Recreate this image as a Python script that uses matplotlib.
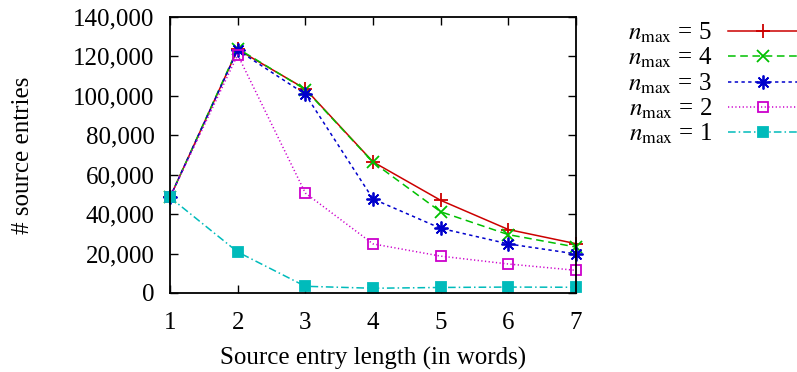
import numpy as np
import matplotlib
matplotlib.use('Agg')
import matplotlib.pyplot as plt
from matplotlib.ticker import StrMethodFormatter

plt.rcParams['font.family'] = ['Liberation Serif', 'DejaVu Serif']
plt.rcParams['mathtext.fontset'] = 'stix'

# длина записи (в словах)
lengths = [1, 2, 3, 4, 5, 6, 7]

# число записей для каждого n_max
n5 = [48500, 123500, 103500, 66500, 47000, 32200, 25000]
n4 = [48500, 124000, 103200, 66300, 41200, 29600, 23300]
n3 = [48500, 123200, 100800, 47700, 32800, 24900, 19800]
n2 = [48500, 120800, 50700, 24900, 18700, 14700, 11500]
n1 = [48500, 20800, 3400, 2400, 2800, 3000, 2900]

labels = ['5', '4', '3', '2', '1']
series = [n5, n4, n3, n2, n1]
colors = ['#cc0000', '#00c000', '#0000cc', '#cc00cc', '#00bbbb']
styles = ['-', (0, (5, 3)), (0, (2.2, 2.2)), (0, (0.8, 1.6)), (0, (5, 2, 1, 2))]
markers = ['+', 'x', (8, 2, 0), 's', 's']
faces = ['none', 'none', 'none', 'none', '#00bbbb']
msizes = [10, 9, 10, 7.5, 7.5]

fig = plt.figure(figsize=(7.97, 3.72), dpi=100)
ax = fig.add_axes([0.2133, 0.2124, 0.5094, 0.742])

for i in range(len(series)):
    ax.plot(lengths, series[i], color=colors[i], linestyle=styles[i], linewidth=1.1,
            marker=markers[i], markersize=msizes[i], markerfacecolor=faces[i],
            markeredgecolor=colors[i], markeredgewidth=1.3, clip_on=False,
            label=r'$n_{\mathrm{max}}$ = ' + labels[i])

ax.set_xlim(1, 7)
ax.set_ylim(0, 140000)
ax.set_xticks(lengths)
ax.set_yticks(np.arange(0, 140001, 20000))
ax.yaxis.set_major_formatter(StrMethodFormatter('{x:,.0f}'))
ax.tick_params(direction='in', top=True, right=True, length=6, width=1.0,
               labelsize=18, pad=11)
ax.tick_params(axis='x', pad=14)
for s in ax.spines.values():
    s.set_linewidth(1.3)

ax.set_xlabel('Source entry length (in words)', fontsize=18, labelpad=9)
ax.set_ylabel('# source entries', fontsize=18, labelpad=28)

fig.legend(loc='upper right', bbox_to_anchor=(1.0, 0.945), frameon=False,
           markerfirst=False, fontsize=18, handlelength=2.75, handletextpad=0.65,
           labelspacing=0.045, borderpad=0, borderaxespad=0)

fig.savefig('out.png', dpi=100)
